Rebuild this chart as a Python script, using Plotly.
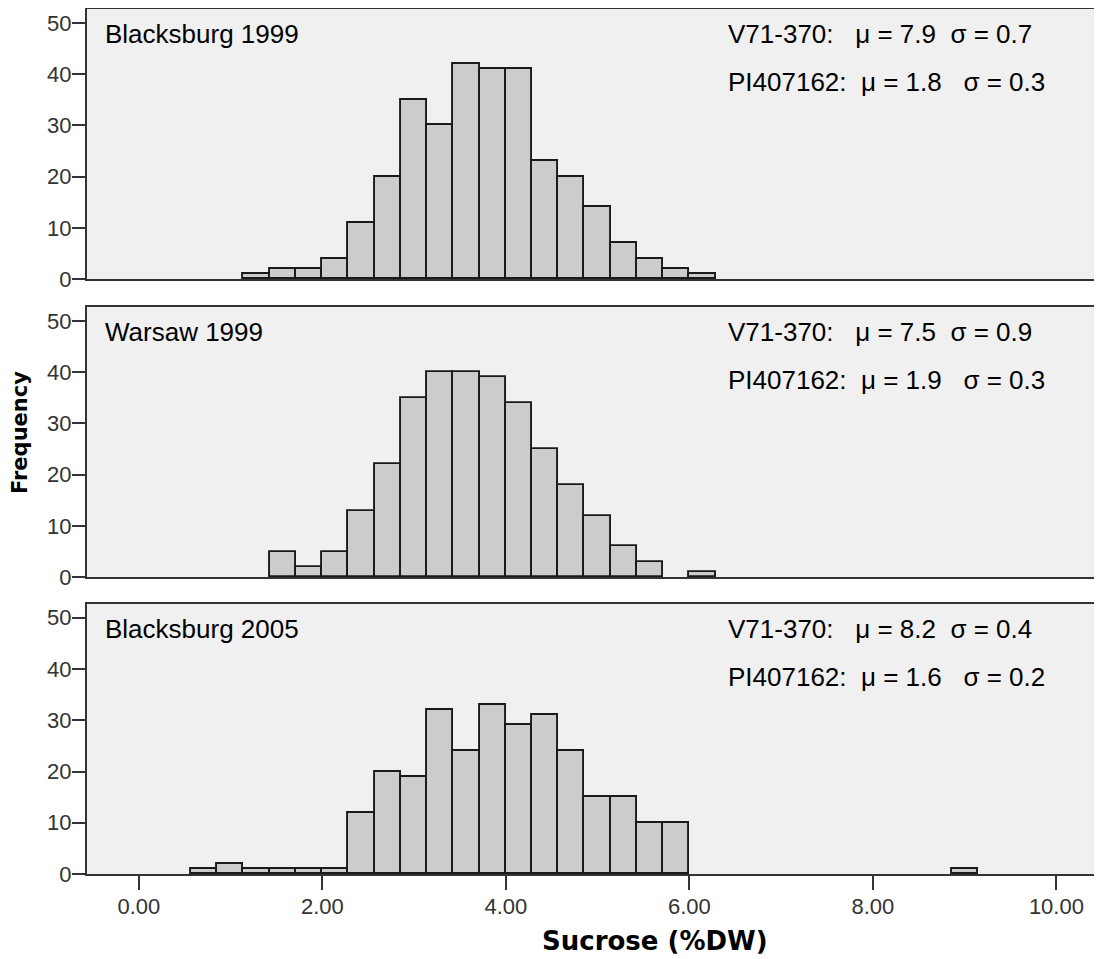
import plotly.graph_objects as go

# ---- data ----
BIN_START = 0.566   # left edge of first bin (%DW)
BIN_WIDTH = 0.286   # bin width (%DW)
N_BINS = 30

panel_names = ["Blacksburg 1999", "Warsaw 1999", "Blacksburg 2005"]

# counts per bin index 0..29
counts_b1999 = [0, 0, 1, 2, 2, 4, 11, 20, 35, 30, 42, 41, 41, 23, 20, 14, 7, 4, 2, 1,
                0, 0, 0, 0, 0, 0, 0, 0, 0, 0]
counts_w1999 = [0, 0, 0, 5, 2, 5, 13, 22, 35, 40, 40, 39, 34, 25, 18, 12, 6, 3, 0, 1,
                0, 0, 0, 0, 0, 0, 0, 0, 0, 0]
counts_b2005 = [1, 2, 1, 1, 1, 1, 12, 20, 19, 32, 24, 33, 29, 31, 24, 15, 15, 10, 10, 0,
                0, 0, 0, 0, 0, 0, 0, 0, 0, 1]

v71_mu = [7.9, 7.5, 8.2]
v71_sigma = [0.7, 0.9, 0.4]
pi_mu = [1.8, 1.9, 1.6]
pi_sigma = [0.3, 0.3, 0.2]

x_ticks = [0, 2, 4, 6, 8, 10]
x_ticklabels = ["0.00", "2.00", "4.00", "6.00", "8.00", "10.00"]
y_ticks = [0, 10, 20, 30, 40, 50]

all_counts = [counts_b1999, counts_w1999, counts_b2005]

# ---- layout geometry (page body has an 8px margin) ----
W, H = 1094, 951
domains = [[0.6877, 1.0], [0.3431, 0.6554], [0.0, 0.3122]]
XR = [-0.566, 10.475]
YR = [0, 52.7]
AX = "#333333"
TICKFONT = dict(family="Liberation Sans, Arial, sans-serif", size=22, color="#333333")
TXTFONT = dict(family="Liberation Sans, Arial, sans-serif", size=26, color="#000000")
NB = "\u00a0"

fig = go.Figure()
annotations = []
for i, counts in enumerate(all_counts):
    idx = i + 1
    xs, ys = [], []
    for k in range(N_BINS):
        if counts[k] > 0:
            xs.append(BIN_START + BIN_WIDTH * (k + 0.5))
            ys.append(counts[k])
    fig.add_trace(go.Bar(
        x=xs, y=ys, width=BIN_WIDTH,
        marker=dict(color="#cccccc", line=dict(color="#1a1a1a", width=1.9)),
        xaxis=f"x{idx if idx > 1 else ''}", yaxis=f"y{idx if idx > 1 else ''}",
        showlegend=False, hoverinfo="x+y",
    ))
    xkey = "xaxis" if idx == 1 else f"xaxis{idx}"
    ykey = "yaxis" if idx == 1 else f"yaxis{idx}"
    last = (i == 2)
    fig.update_layout(**{
        xkey: dict(
            domain=[0, 1], range=XR, anchor=f"y{idx if idx > 1 else ''}",
            showline=True, linecolor=AX, linewidth=2, mirror=True,
            showgrid=False, zeroline=False, automargin=False,
            tickvals=x_ticks if last else [], ticktext=x_ticklabels if last else [],
            ticks="outside" if last else "", ticklen=14, tickwidth=2, tickcolor=AX,
            tickfont=TICKFONT, showticklabels=last, ticklabelstandoff=-2,
        ),
        ykey: dict(
            domain=domains[i], range=YR, anchor=f"x{idx if idx > 1 else ''}",
            showline=True, linecolor=AX, linewidth=2, mirror=False,
            showgrid=False, zeroline=False, automargin=False,
            tickvals=y_ticks, ticks="outside", ticklen=13, tickwidth=2, tickcolor=AX,
            tickfont=TICKFONT, ticklabelstandoff=-4,
        ),
    })
    xr = f"x{idx if idx > 1 else ''} domain"
    yr = f"y{idx if idx > 1 else ''} domain"
    annotations.append(dict(text=panel_names[i], xref=xr, yref=yr, x=0.016, y=0.9074,
                            xanchor="left", yanchor="middle", showarrow=False, font=TXTFONT))
    line1 = f"V71-370:{NB*3}\u03bc = {v71_mu[i]}{NB*2}\u03c3 = {v71_sigma[i]}"
    line2 = f"PI407162:{NB*2}\u03bc = {pi_mu[i]}{NB*3}\u03c3 = {pi_sigma[i]}"
    annotations.append(dict(text=line1, xref=xr, yref=yr, x=0.631, y=0.9074,
                            xanchor="left", yanchor="middle", showarrow=False, font=TXTFONT))
    annotations.append(dict(text=line2, xref=xr, yref=yr, x=0.631, y=0.7307,
                            xanchor="left", yanchor="middle", showarrow=False, font=TXTFONT))

annotations.append(dict(text="Sucrose (%DW)", xref="paper", yref="paper",
                        x=0.4474, y=-0.0775, xanchor="left", yanchor="middle",
                        showarrow=False,
                        font=dict(family="DejaVu Sans, sans-serif", size=26,
                                  color="#000000", weight="bold")))
annotations.append(dict(text="Frequency", xref="paper", yref="paper",
                        x=-0.066, y=0.51, xanchor="center", yanchor="middle",
                        textangle=-90, showarrow=False,
                        font=dict(family="DejaVu Sans, sans-serif", size=21,
                                  color="#000000", weight="bold")))

fig.update_layout(
    width=W, height=H,
    margin=dict(l=79, r=2, t=1, b=85),
    paper_bgcolor="white", plot_bgcolor="#f0f0f0",
    bargap=0, annotations=annotations,
)

fig.write_html("out.html")
